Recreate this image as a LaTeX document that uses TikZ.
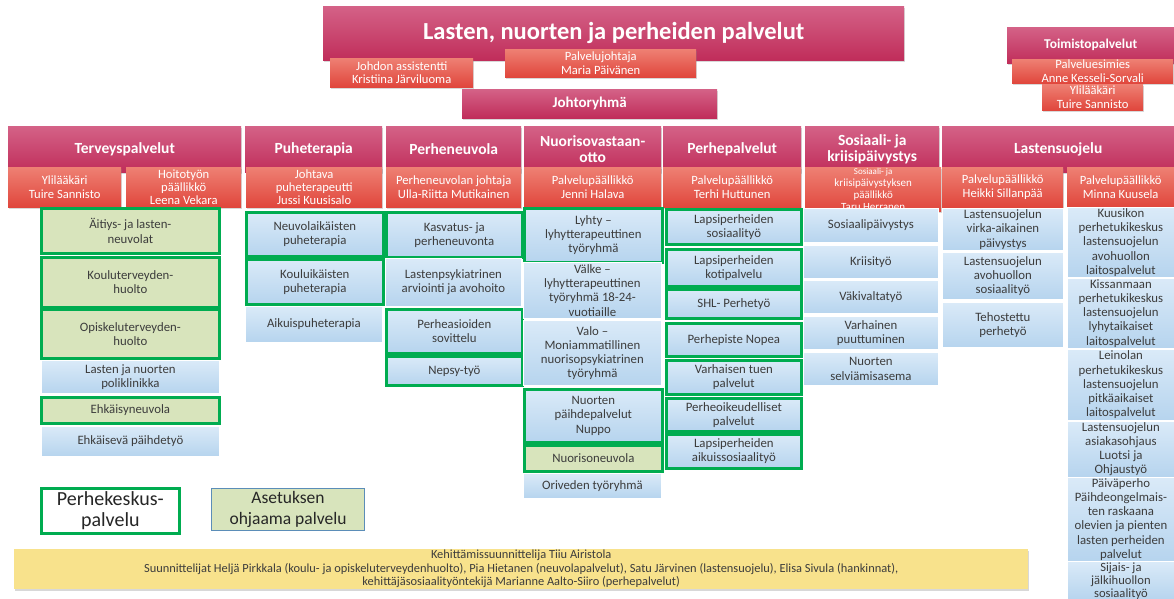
\documentclass[tikz,border=0pt]{standalone}
\usepackage{fontspec}
\setmainfont{Carlito}
\usetikzlibrary{shadows}
\definecolor{hdtop}{RGB}{212,98,135}
\definecolor{hdbot}{RGB}{192,45,90}
\definecolor{rdtop}{RGB}{238,128,115}
\definecolor{rdbot}{RGB}{224,70,60}
\definecolor{bltop}{RGB}{218,234,248}
\definecolor{blbot}{RGB}{182,212,238}
\definecolor{pkgreen}{RGB}{0,172,80}
\definecolor{asgreen}{RGB}{216,228,188}
\definecolor{asedge}{RGB}{91,141,184}
\definecolor{noteyel}{RGB}{248,226,140}
\definecolor{txt}{RGB}{60,60,60}
\begin{document}
\begin{tikzpicture}[x=1pt,y=-1pt,every node/.style={anchor=north west,align=center,inner sep=1pt,text=txt,font=\fontsize{12.8}{14.2}\selectfont},head/.style={top color=hdtop,bottom color=hdbot,text=white,font=\fontsize{15.5}{16.5}\selectfont\bfseries,drop shadow={shadow xshift=1pt,shadow yshift=-1.5pt,opacity=0.3}},chief/.style={top color=rdtop,bottom color=rdbot,text=white,font=\fontsize{12.6}{13.3}\selectfont,drop shadow={shadow xshift=1pt,shadow yshift=-1.5pt,opacity=0.3}},unit/.style={top color=bltop,bottom color=blbot,draw=white,line width=0.8pt},asunit/.style={fill=asgreen,draw=white,line width=0.8pt},pk/.style={draw=pkgreen,line width=2.7pt},c1/.style={minimum width=178},c2/.style={minimum width=137},c3/.style={minimum width=136},c4/.style={minimum width=138},c5/.style={minimum width=135},c6/.style={minimum width=135},c7/.style={minimum width=121},c8/.style={minimum width=107}]
\useasboundingbox[fill=white] (0,0) rectangle (1174,598);
\node[head,font=\fontsize{24.5}{27}\selectfont\bfseries,minimum width=581,minimum height=54] (title) at (323,6) {Lasten, nuorten ja perheiden palvelut};
\node[chief,minimum width=143,minimum height=29] (assist) at (330,58) {Johdon assistentti\\Kristiina Järviluoma}; \node[chief,minimum width=191,minimum height=28] (pjohtaja) at (505,49) {Palvelujohtaja\\Maria Päivänen};
\node[head,font=\fontsize{15}{16}\selectfont\bfseries,minimum width=255,minimum height=29] (johto) at (462,89) {Johtoryhmä};
\node[head,font=\fontsize{13.5}{15}\selectfont\bfseries,minimum width=167,minimum height=36] (toimisto) at (1007,27) {Toimistopalvelut};
\node[chief,minimum width=161,minimum height=23] (palvesim) at (1012,59) {Palveluesimies\\Anne Kesseli-Sorvali}; \node[chief,minimum width=101,minimum height=26] (ylil2) at (1042,84) {Ylilääkäri\\Tuire Sannisto};
\node[head,minimum width=233,minimum height=46] (terv) at (8,126) {Terveyspalvelut}; \node[head,minimum width=137,minimum height=46] (puhe) at (245,126) {Puheterapia}; \node[head,minimum width=135,minimum height=46] (pneuv) at (386,126) {Perheneuvola}; \node[head,minimum width=137,minimum height=46] (nuor) at (524,126) {Nuorisovastaan-\\otto}; \node[head,minimum width=138,minimum height=46] (perhe) at (663,126) {Perhepalvelut}; \node[head,minimum width=134,minimum height=46] (sos) at (805,126) {Sosiaali- ja\\kriisipäivystys}; \node[head,minimum width=232,minimum height=46] (lsuoj) at (942,126) {Lastensuojelu};
\node[chief,minimum width=113,minimum height=40] (terv1) at (8,167) {Ylilääkäri\\Tuire Sannisto}; \node[chief,minimum width=115,minimum height=40] (terv2) at (126,167) {Hoitotyön\\päällikkö\\Leena Vekara}; \node[chief,minimum width=136,minimum height=40] (puhe1) at (246,167) {Johtava\\puheterapeutti\\Jussi Kuusisalo}; \node[chief,minimum width=135,minimum height=40] (pneuv1) at (386,167) {Perheneuvolan johtaja\\Ulla-Riitta Mutikainen}; \node[chief,minimum width=137,minimum height=40] (nuor1) at (524,167) {Palvelupäällikkö\\Jenni Halava}; \node[chief,minimum width=138,minimum height=40] (perhe1) at (663,167) {Palvelupäällikkö\\Terhi Huttunen}; \node[chief,font=\fontsize{11}{12}\selectfont,minimum width=136,minimum height=43] (sos1) at (805,167) {{\fontsize{9}{9}\selectfont Sosiaali- ja}\\kriisipäivystyksen\\päällikkö\\Taru Herranen}; \node[chief,minimum width=121,minimum height=40] (lsuoj1) at (942,167) {Palvelupäällikkö\\Heikki Sillanpää}; \node[chief,minimum width=107,minimum height=40] (lsuoj2) at (1067,167) {Palvelupäällikkö\\Minna Kuusela};
\node[asunit,pk,c1,minimum height=45] (aitiys) at (40,207) {Äitiys- ja lasten-\\neuvolat}; \node[asunit,pk,c1,minimum height=50] (kouluth) at (40,256) {Kouluterveyden-\\huolto}; \node[asunit,pk,c1,minimum height=49] (opisk) at (40,308) {Opiskeluterveyden-\\huolto}; \node[unit,c1,minimum height=33] (polik) at (41,360) {Lasten ja nuorten\\poliklinikka}; \node[asunit,pk,c1,minimum height=26] (ehkneuv) at (40,396) {Ehkäisyneuvola}; \node[unit,c1,minimum height=30] (ehkpaih) at (41,426) {Ehkäisevä päihdetyö};
\node[unit,pk,c2,minimum height=44] (neuvpuhe) at (245,211) {Neuvolaikäisten\\puheterapia}; \node[unit,pk,c2,minimum height=45] (koulpuhe) at (245,258) {Kouluikäisten\\puheterapia}; \node[unit,c2,minimum height=36] (aikpuhe) at (245,306) {Aikuispuheterapia};
\node[unit,pk,c3,minimum height=45] (kasvatus) at (385,211) {Kasvatus- ja\\perheneuvonta}; \node[unit,c3,minimum height=48] (lpsyk) at (385,258) {Lastenpsykiatrinen\\arviointi ja avohoito}; \node[unit,pk,c3,minimum height=44] (sovittelu) at (385,308) {Perheasioiden\\sovittelu}; \node[unit,pk,c3,minimum height=29] (nepsy) at (385,355) {Nepsy-työ};
\node[unit,pk,c4,minimum height=54] (lyhty) at (523,207) {Lyhty –\\lyhytterapeuttinen\\työryhmä}; \node[unit,c4,minimum height=56] (valke) at (523,262) {Välke –\\lyhytterapeuttinen\\työryhmä 18-24-\\vuotiaille}; \node[unit,c4,minimum height=65] (valo) at (523,320) {Valo –\\Moniammatillinen\\nuorisopsykiatrinen\\työryhmä}; \node[unit,pk,c4,minimum height=53] (nuppo) at (523,388) {Nuorten\\päihdepalvelut\\Nuppo}; \node[asunit,pk,c4,minimum height=26] (nuorneuv) at (523,444) {Nuorisoneuvola}; \node[unit,c4,minimum height=25] (orivesi) at (523,473) {Oriveden työryhmä};
\node[unit,pk,c5,minimum height=35] (lpsos) at (665,208) {Lapsiperheiden\\sosiaalityö}; \node[unit,pk,c5,minimum height=37] (kotip) at (665,248) {Lapsiperheiden\\kotipalvelu}; \node[unit,pk,c5,minimum height=29] (shl) at (665,288) {SHL- Perhetyö}; \node[unit,pk,c5,minimum height=33] (nopea) at (665,322) {Perhepiste Nopea}; \node[unit,pk,c5,minimum height=34] (varhtuki) at (665,359) {Varhaisen tuen\\palvelut}; \node[unit,pk,c5,minimum height=33] (perheoik) at (665,397) {Perheoikeudelliset\\palvelut}; \node[unit,pk,c5,minimum height=34] (aikuissos) at (665,433) {Lapsiperheiden\\aikuissosiaalityö};
\node[unit,c6,minimum height=34] (sospaiv) at (803,208) {Sosiaalipäivystys}; \node[unit,c6,minimum height=33] (kriisi) at (803,245) {Kriisityö}; \node[unit,c6,minimum height=33] (vakiv) at (803,280) {Väkivaltatyö}; \node[unit,c6,minimum height=33] (varhpuut) at (803,316) {Varhainen\\puuttuminen}; \node[unit,c6,minimum height=33] (selviam) at (803,352) {Nuorten\\selviämisasema};
\node[unit,c7,minimum height=42] (virka) at (942,208) {Lastensuojelun\\virka-aikainen\\päivystys}; \node[unit,c7,minimum height=47] (avoh) at (942,252) {Lastensuojelun\\avohuollon\\sosiaalityö}; \node[unit,c7,minimum height=45] (tehost) at (942,302) {Tehostettu\\perhetyö};
\node[unit,c8,minimum height=70] (kuusikko) at (1067,207) {Kuusikon\\perhetukikeskus\\lastensuojelun\\avohuollon\\laitospalvelut}; \node[unit,c8,minimum height=70] (kissanmaa) at (1067,278) {Kissanmaan\\perhetukikeskus\\lastensuojelun\\lyhytaikaiset\\laitospalvelut}; \node[unit,c8,minimum height=71] (leinola) at (1067,349) {Leinolan\\perhetukikeskus\\lastensuojelun\\pitkäaikaiset\\laitospalvelut}; \node[unit,c8,minimum height=55] (luotsi) at (1067,421) {Lastensuojelun\\asiakasohjaus\\Luotsi ja\\Ohjaustyö}; \node[unit,c8,minimum height=84] (paivaperho) at (1067,477) {Päiväperho\\Päihdeongelmais-\\ten raskaana\\olevien ja pienten\\lasten perheiden\\palvelut}; \node[unit,c8,font=\fontsize{12.6}{13}\selectfont,minimum height=38] (sijais) at (1067,561) {Sijais- ja\\jälkihuollon\\sosiaalityö};
\node[pk,fill=white,text=black!85,font=\fontsize{20}{21}\selectfont,minimum width=138,minimum height=45] (lgpk) at (40,487) {Perhekeskus-\\palvelu}; \node[fill=asgreen,draw=asedge,line width=1pt,text=black!85,font=\fontsize{17.5}{21}\selectfont,minimum width=153,minimum height=42] (lgase) at (211,488) {Asetuksen\\ohjaama palvelu};
\node[fill=noteyel,font=\fontsize{12.4}{13.5}\selectfont,minimum width=1014,minimum height=40,drop shadow={shadow xshift=1pt,shadow yshift=-1.5pt,opacity=0.3}] (note) at (14,549) {Kehittämissuunnittelija Tiiu Airistola\\Suunnittelijat Heljä Pirkkala (koulu- ja opiskeluterveydenhuolto), Pia Hietanen (neuvolapalvelut), Satu Järvinen (lastensuojelu), Elisa Sivula (hankinnat),\\kehittäjäsosiaalityöntekijä Marianne Aalto-Siiro (perhepalvelut)};
\end{tikzpicture}
\end{document}
